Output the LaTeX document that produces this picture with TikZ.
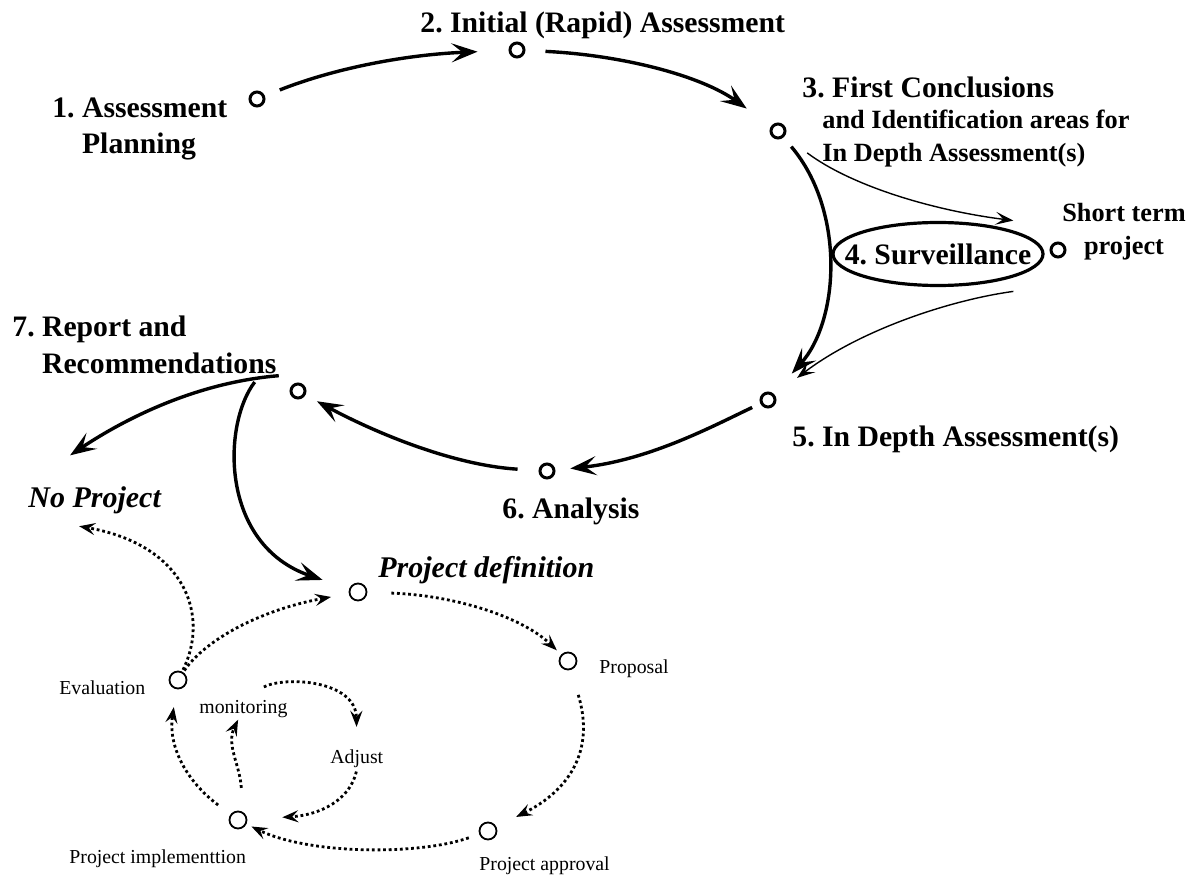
\documentclass[tikz,border=0pt]{standalone}
\usepackage{tikz}
\usepackage{fontspec}
\setmainfont{Liberation Serif}
\usetikzlibrary{arrows.meta}
\usetikzlibrary{shapes.geometric}
\frenchspacing

\begin{document}
\begin{tikzpicture}[x=0.5pt,y=-0.5pt]
\useasboundingbox (0,0) rectangle (1195,877);
\tikzstyle{rond}=[circle,draw,line width=1.5pt,minimum size=7pt,inner sep=0pt]
\tikzstyle{petit}=[circle,draw,line width=0.9pt,minimum size=8.5pt,inner sep=0pt]
\tikzstyle{titre}=[anchor=base west,inner sep=1pt,font=\fontsize{14.85pt}{18pt}\selectfont\bfseries]
\tikzstyle{sous}=[anchor=base west,inner sep=1pt,font=\fontsize{13.15pt}{16.5pt}\selectfont\bfseries]
\tikzstyle{italique}=[anchor=base west,inner sep=1pt,font=\fontsize{15pt}{18pt}\selectfont\bfseries\itshape]
\tikzstyle{texte}=[anchor=base west,inner sep=1pt,font=\fontsize{9.9pt}{12pt}\selectfont]
	\node[rond] (A) at (257,99) {};
	\node[rond] (B) at (517,50) {};
	\node[rond] (C) at (778,131) {};
	\node[rond] (D) at (1058,250) {};
	\node[rond] (E) at (768,400) {};
	\node[rond] (F) at (547,471) {};
	\node[rond] (G) at (298,391) {};
\par
	\node[titre,align=left] (LA) at (50,154) {1. Assessment\\\hspace*{1em}Planning};
	\node[titre] (LB) at (418,33) {2. Initial (Rapid) Assessment};
	\node[titre] (LC) at (800,98) {3. First Conclusions};
	\node[sous,align=left] (LC2) at (820,162) {and Identification areas for\\In Depth Assessment(s)};
	\node[sous,align=center,anchor=base] (LD) at (1124,255) {Short term\\project};
	\node[ellipse,draw,line width=1.6pt,minimum width=105pt,minimum height=31.5pt,inner xsep=-9.5pt,inner ysep=0pt,font=\fontsize{14.85pt}{18pt}\selectfont\bfseries] (S) at (938,254) {4. Surveillance};
	\node[titre] (LE) at (790,446) {5. In Depth Assessment(s)};
	\node[titre] (LF) at (500,518) {6. Analysis};
	\node[titre,align=left] (LG) at (10,373) {7. Report and\\\hspace*{1em}Recommendations};
\par
	\node[petit] (P) at (358,592) {};
	\node[petit] (Q) at (568,661) {};
	\node[petit] (R) at (488,831) {};
	\node[petit] (T) at (238,820) {};
	\node[petit] (K) at (178,680) {};
	\node[italique] (N) at (26,508) {No Project};
	\node[italique] (LP) at (376,577) {Project definition};
	\node[texte] (LQ) at (597,673) {Proposal};
	\node[texte] (LR) at (477,870) {Project approval};
	\node[texte] (LT) at (67,863) {Project implementtion};
	\node[texte] (LK) at (57,694) {Evaluation};
	\node[texte] (M) at (197,713) {monitoring};
	\node[texte] (J) at (328,763) {Adjust};
\par
\tikzstyle{gros}=[-{Stealth[length=13pt,width=9.5pt,inset=5.5pt]},line width=1.7pt]
\tikzstyle{fin}=[-{Stealth[length=9pt,width=6.5pt,inset=4pt]},line width=0.7pt]
\tikzstyle{pointille}=[-{Stealth[length=8pt,width=6pt,inset=3pt]},line width=1.4pt,dash pattern=on 1.4pt off 1.4pt]
	\draw[gros,shorten <=8pt,shorten >=15.5pt] (A) .. controls (330,70) and (400,55) .. (B);
	\draw[gros,shorten <=10pt,shorten >=15pt] (B) .. controls (620,55) and (700,75) .. (C);
	\draw[gros,shorten <=6pt,shorten >=13.5pt] (C) .. controls (845,210) and (840,320) .. (E);
	\draw[gros,shorten <=4.5pt,shorten >=7.5pt] (E) .. controls (715,425) and (650,460) .. (F);
	\draw[gros,shorten <=10.5pt,shorten >=6.5pt] (F) .. controls (450,465) and (370,430) .. (G);
	\draw[gros,shorten >=26.5pt] (LG.south east) .. controls (190,383) and (117,424) .. (N.north west);
	\draw[gros,shorten <=4pt,shorten >=14pt] (LG.-15) .. controls (222,425) and (220,545) .. (P);
\par
	\draw[fin,shorten <=14pt] (C) .. controls (850,185) and (930,210) .. ([yshift=5pt]S.north east);
	\draw[fin,shorten >=14pt] ([yshift=-7pt]S.south east) .. controls (950,300) and (860,330) .. (E);
\par
\draw[pointille,shorten <=1pt,shorten >=27pt] (K) .. controls (210,615) and (185,545) .. (N.south west);
	\draw[pointille,shorten <=1pt,shorten >=9pt] (K) .. controls (205,640) and (260,610) .. (P);
	\draw[pointille,shorten <=12pt,shorten >=3pt] (P) .. controls (450,595) and (520,615) .. (Q);
	\draw[pointille,shorten <=13pt,shorten >=11pt] (Q) .. controls (595,750) and (570,790) .. (R);
	\draw[pointille,shorten <=5.5pt,shorten >=2.75pt] (R) .. controls (420,855) and (310,855) .. (T);
	\draw[pointille,shorten <=7.75pt,shorten >=9pt] (T) .. controls (185,780) and (168,745) .. (K);
	\draw[pointille,shorten <=12pt] (T.60) .. controls (240,765) and (226,745) .. (M);
	\draw[pointille,shorten <=11.5pt,shorten >=10pt] (M.north) .. controls (285,676) and (356,680) .. (J.north);
	\draw[pointille,shorten <=1pt,shorten >=17.5pt] (J.south) .. controls (350,800) and (320,815) .. (T);
\end{tikzpicture}
\end{document}
